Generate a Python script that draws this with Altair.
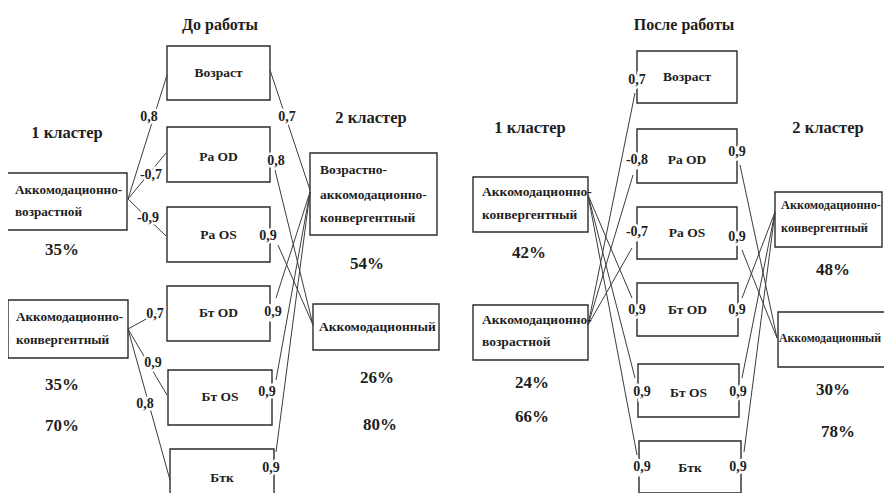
import altair as alt
import pandas as pd

# ---------------- content ----------------
panel_titles = ["До работы", "После работы"]
title_x = [220, 684]
title_y = [25, 25]

cluster_heads = ["1 кластер", "2 кластер", "1 кластер", "2 кластер"]
head_x = [67, 371, 530, 828]
head_y = [133, 118, 128, 128]

percents = ["35%", "35%", "70%", "54%", "26%", "80%",
            "42%", "24%", "66%", "48%", "30%", "78%"]
pct_x = [62, 62, 62, 367, 377, 380, 529, 532, 532, 833, 833, 838]
pct_y = [250, 385, 426, 264, 378, 425, 253, 383, 417, 270, 390, 432]

# middle boxes (factors), both panels
factor_names = ["Возраст", "Ра OD", "Ра OS", "Бт OD", "Бт OS", "Бтк"] * 2
fb_x0 = [167, 167, 167, 167, 168, 170, 637, 637, 637, 637, 638, 639]
fb_x1 = [270, 270, 270, 270, 272, 274, 737, 737, 737, 738, 739, 741]
fb_y0 = [46, 127, 207, 286, 370, 449, 51, 129, 207, 283, 364, 441]
fb_y1 = [100, 182, 262, 341, 425, 520, 103, 183, 259, 336, 417, 493]
fb_ty = [73, 157, 235, 313, 397, 478, 77, 160, 233, 310, 393, 468]

# cluster boxes, both panels
cluster_texts = [
    ["Аккомодационно-", "возрастной"],
    ["Аккомодационно-", "конвергентный"],
    ["Возрастно-", "аккомодационно-", "конвергентный"],
    ["Аккомодационный"],
    ["Аккомодационно-", "конвергентный"],
    ["Аккомодационно-", "возрастной"],
    ["Аккомодационно-", "конвергентный"],
    ["Аккомодационный"],
]
cb_size = [13.2, 13.2, 13.5, 13.5, 13.5, 13.5, 12.3, 11.8]
cb_x0 = [7, 8, 310, 313, 473, 473, 775, 778]
cb_x1 = [127, 128, 437, 439, 588, 588, 882, 905]
cb_y0 = [173, 300, 153, 304, 177, 305, 192, 312]
cb_y1 = [230, 358, 235, 350, 232, 360, 247, 367]
cb_tx = [15, 16, 320, 319, 482, 482, 781, 779]
cb_ty = [[190, 212], [317, 340], [170, 195, 218], [327],
         [192, 215], [320, 342], [205, 228], [338]]

# links and their coefficients
coefs = ["0,8", "-0,7", "-0,9", "0,7", "0,9", "0,8",
         "0,7", "0,8", "0,9", "0,9", "0,9", "0,9",
         "0,7", "-0,8", "-0,7", "0,9", "0,9", "0,9",
         "0,9", "0,9", "0,9", "0,9", "0,9"]
ln_x1 = [128, 128, 128, 128, 128, 128,
         270, 275, 278, 276, 276, 276,
         588, 588, 588, 588, 588, 588,
         740, 742, 742, 742, 744]
ln_y1 = [199, 199, 199, 329, 329, 329,
         70, 170, 245, 298, 380, 452,
         325, 325, 325, 195, 195, 195,
         165, 250, 298, 378, 452]
ln_x2 = [167, 166, 166, 166, 167, 170,
         310, 313, 313, 310, 310, 310,
         635, 633, 632, 632, 635, 637,
         777, 777, 775, 775, 775]
ln_y2 = [75, 153, 236, 308, 395, 480,
         190, 325, 325, 192, 192, 192,
         93, 175, 248, 298, 378, 455,
         338, 338, 212, 212, 212]
cf_x = [149, 151, 148, 155, 153, 145,
        287, 276, 268, 273, 267, 271,
        637, 637, 637, 637, 642, 642,
        737, 737, 737, 738, 738]
cf_y = [117, 175, 218, 314, 363, 404,
        117, 161, 236, 312, 392, 468,
        80, 160, 232, 310, 392, 467,
        152, 237, 310, 392, 467]

# ---------------- tables ----------------
boxes = pd.DataFrame({
    "x0": fb_x0 + cb_x0, "x1": fb_x1 + cb_x1,
    "y0": fb_y0 + cb_y0, "y1": fb_y1 + cb_y1,
})
links = pd.DataFrame({"x": ln_x1, "y": ln_y1, "x2": ln_x2, "y2": ln_y2})
coef_df = pd.DataFrame({"t": coefs, "x": cf_x, "y": cf_y})
factor_df = pd.DataFrame({
    "t": factor_names,
    "x": [(a + b) / 2 for a, b in zip(fb_x0, fb_x1)],
    "y": fb_ty,
})
rows = []
for lines, tx, tys, sz in zip(cluster_texts, cb_tx, cb_ty, cb_size):
    for line, ty in zip(lines, tys):
        rows.append({"t": line, "x": tx, "y": ty, "s": sz})
cluster_df = pd.DataFrame(rows)
title_df = pd.DataFrame({"t": panel_titles, "x": title_x, "y": title_y})
head_df = pd.DataFrame({"t": cluster_heads, "x": head_x, "y": head_y})
pct_df = pd.DataFrame({"t": percents, "x": pct_x, "y": pct_y})

# ---------------- chart ----------------
W, H = 876, 485
xs = alt.Scale(domain=[8, 884], nice=False, zero=False)
ys = alt.Scale(domain=[8, 493], nice=False, zero=False, reverse=True)
FONT = "'Liberation Serif', 'Times New Roman', 'DejaVu Serif', serif"
INK = "#1e1e1e"


def X(f="x"):
    return alt.X(f"{f}:Q", scale=xs, axis=None)


def Y(f="y"):
    return alt.Y(f"{f}:Q", scale=ys, axis=None)


rect_layer = alt.Chart(boxes).mark_rect(
    fill="white", stroke="#2b2b2b", strokeWidth=1.4, clip=True
).encode(x=X("x0"), x2="x1", y=Y("y0"), y2="y1")

link_layer = alt.Chart(links).mark_rule(
    color="#3c3c3c", strokeWidth=1, clip=True
).encode(x=X(), y=Y(), x2="x2", y2="y2")


def text_layer(df, size, align="center", halo=False):
    base = alt.Chart(df).encode(x=X(), y=Y(), text="t:N")
    kw = dict(font=FONT, fontWeight="bold", fontSize=size, align=align,
              baseline="middle")
    fg = base.mark_text(color=INK, **kw)
    if halo:
        bg = base.mark_text(fill="white", stroke="white", strokeWidth=5, **kw)
        return bg + fg
    return fg


cluster_layer = alt.Chart(cluster_df).mark_text(
    font=FONT, fontWeight="bold", align="left", baseline="middle", color=INK
).encode(
    x=X(), y=Y(), text="t:N",
    size=alt.Size("s:Q", scale=None, legend=None),
)

chart = alt.layer(
    rect_layer,
    link_layer,
    text_layer(coef_df, 14, halo=True),
    text_layer(factor_df, 13.5),
    cluster_layer,
    text_layer(title_df, 16),
    text_layer(head_df, 16.5),
    text_layer(pct_df, 17),
).properties(
    width=W, height=H, padding=0, autosize="none", background="white"
).configure_view(stroke=None)

chart.save("out.html", embed_options={"renderer": "svg", "actions": False})
